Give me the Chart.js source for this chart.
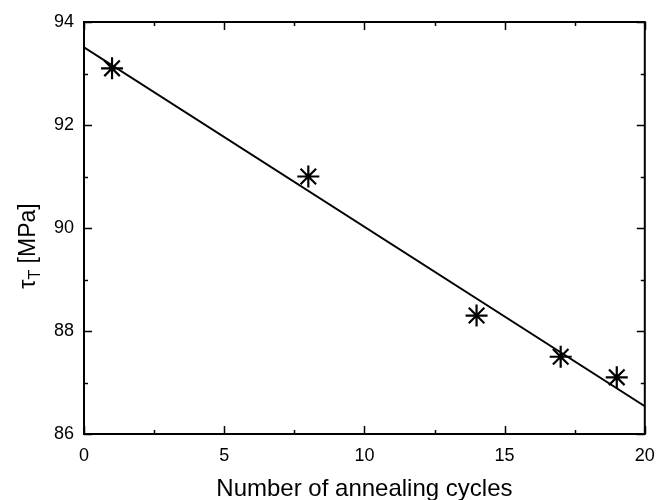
<!DOCTYPE html>
<html lang="en">
<head>
  <meta charset="UTF-8" />
  <title>Tau vs annealing cycles</title>
  <script src="https://cdn.jsdelivr.net/npm/chart.js"></script>
  <style>
    html, body { margin: 0; padding: 0; background: #fff; }
    #wrap { width: 658px; height: 500px; }
  </style>
</head>
<body>
  <div id="wrap"><canvas id="tauChart" width="658" height="500"></canvas></div>

  <script>
    // measured points
    const cycles = [1, 8, 14, 17, 19];
    const tau = [93.1, 91.0, 88.3, 87.5, 87.1];
    // linear fit, read at both ends of the axis
    const fitX = [0, 20];
    const fitY = [93.51, 86.54];

    const xTicks = [0, 5, 10, 15, 20];
    const yTicks = [86, 88, 90, 92, 94];

    const FONT = '"Liberation Sans", Arial, sans-serif';

    // box + inward ticks on all four sides, y title with subscript
    const framePlugin = {
      id: 'frame',
      afterDraw(chart) {
        const { ctx, chartArea: a, scales: { x, y } } = chart;
        ctx.save();
        ctx.strokeStyle = '#000';
        ctx.lineWidth = 2;
        ctx.strokeRect(a.left, a.top, a.right - a.left, a.bottom - a.top);
        ctx.lineWidth = 1.5;
        ctx.beginPath();
        for (let v = 0; v <= 20; v += 2.5) {
          const px = Math.round(x.getPixelForValue(v)) + 0.5;
          const len = v % 5 === 0 ? 8 : 4;
          ctx.moveTo(px, a.bottom); ctx.lineTo(px, a.bottom - len);
          ctx.moveTo(px, a.top); ctx.lineTo(px, a.top + len);
        }
        for (let v = 86; v <= 94; v += 1) {
          const py = Math.round(y.getPixelForValue(v)) + 0.5;
          const len = v % 2 === 0 ? 8 : 4;
          ctx.moveTo(a.left, py); ctx.lineTo(a.left + len, py);
          ctx.moveTo(a.right, py); ctx.lineTo(a.right - len, py);
        }
        ctx.stroke();

        // y title: tau_T [MPa]
        ctx.translate(35, 246);
        ctx.rotate(-Math.PI / 2);
        ctx.fillStyle = '#000';
        ctx.textBaseline = 'alphabetic';
        const big = '23px ' + FONT, small = '16px ' + FONT;
        ctx.font = big; const w1 = ctx.measureText('τ').width;
        ctx.font = small; const w2 = ctx.measureText('T').width;
        ctx.font = big; const w3 = ctx.measureText(' [MPa]').width;
        let cx = -(w1 + w2 + w3) / 2;
        ctx.font = big; ctx.fillText('τ', cx, 0); cx += w1;
        ctx.font = small; ctx.fillText('T', cx, 5); cx += w2;
        ctx.font = big; ctx.fillText(' [MPa]', cx, 0);
        ctx.restore();
      }
    };

    const ctx = document.getElementById('tauChart').getContext('2d');
    new Chart(ctx, {
      type: 'scatter',
      data: {
        datasets: [
          {
            label: 'fit',
            data: fitX.map((v, i) => ({ x: v, y: fitY[i] })),
            showLine: true,
            borderColor: '#000',
            borderWidth: 2,
            pointRadius: 0,
            fill: false
          },
          {
            label: 'tau',
            data: cycles.map((v, i) => ({ x: v, y: tau[i] })),
            pointStyle: 'star',
            pointRadius: 11,
            borderColor: '#000',
            backgroundColor: '#000',
            borderWidth: 2.2
          }
        ]
      },
      options: {
        responsive: false,
        animation: false,
        layout: { padding: { top: 22, right: 13, left: 0, bottom: 0 } },
        plugins: {
          legend: { display: false },
          tooltip: { enabled: false }
        },
        scales: {
          x: {
            type: 'linear',
            min: 0, max: 20,
            afterBuildTicks: s => { s.ticks = xTicks.map(v => ({ value: v })); },
            afterFit: s => { s.height = 66; s.paddingLeft = 0; s.paddingRight = 0; },
            grid: { display: false, drawTicks: false },
            border: { display: false },
            ticks: { color: '#000', padding: 11, maxRotation: 0, font: { family: FONT, size: 18 } },
            title: {
              display: true,
              text: 'Number of annealing cycles',
              color: '#000',
              padding: { top: 4, bottom: 0 },
              font: { family: FONT, size: 24, lineHeight: 0.9 }
            }
          },
          y: {
            type: 'linear',
            min: 86, max: 94,
            afterBuildTicks: s => { s.ticks = yTicks.map(v => ({ value: v })); },
            afterFit: s => { s.width = 84; s.paddingTop = 0; s.paddingBottom = 0; },
            grid: { display: false, drawTicks: false },
            border: { display: false },
            ticks: { color: '#000', padding: 10, font: { family: FONT, size: 18 } }
          }
        }
      },
      plugins: [framePlugin]
    });
  </script>
</body>
</html>
